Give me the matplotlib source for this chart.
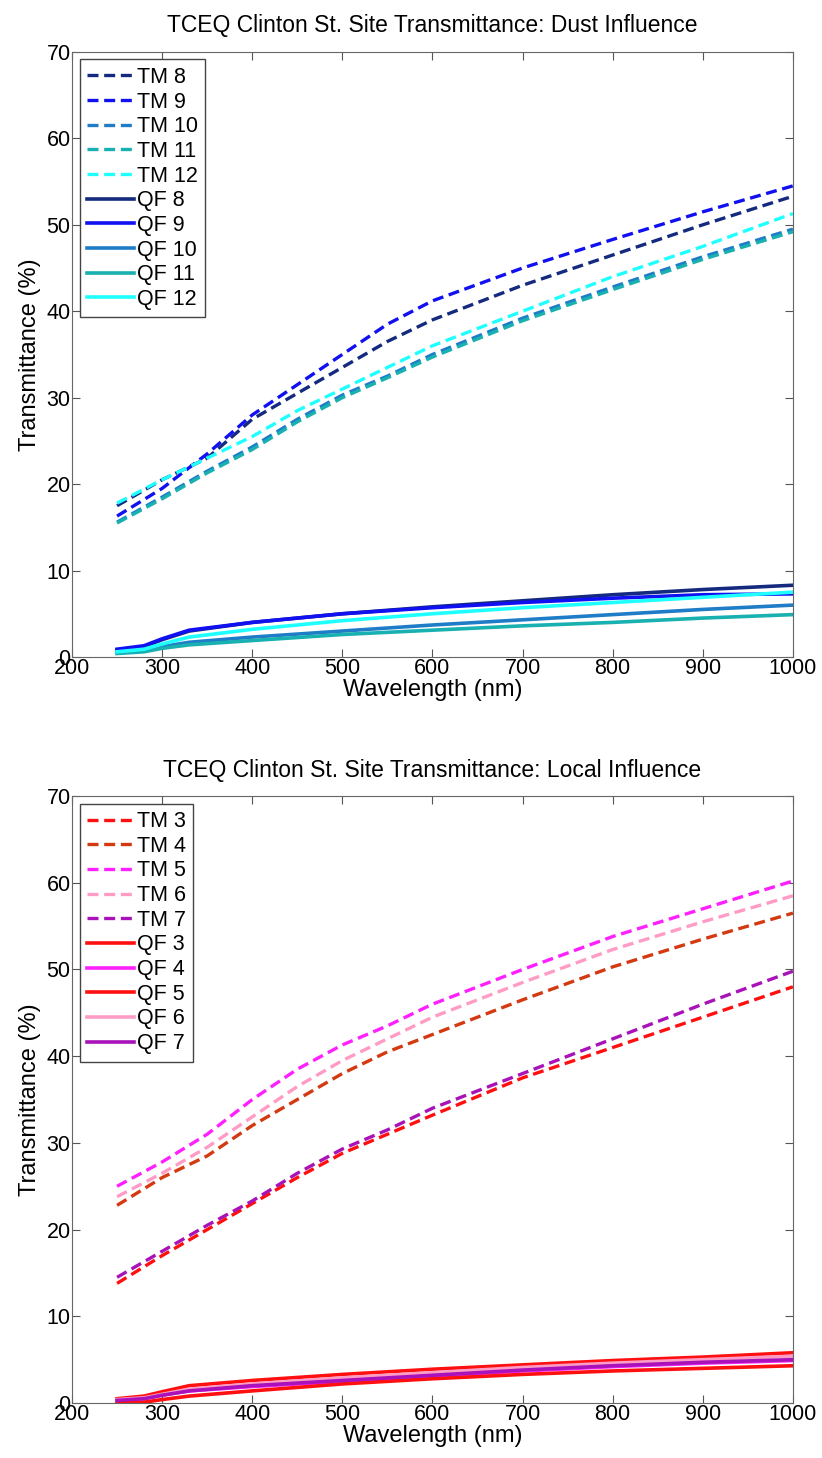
import numpy as np
import matplotlib
matplotlib.use("Agg")
import matplotlib.pyplot as plt

plt.rcParams['font.family'] = ['Liberation Sans', 'DejaVu Sans']

# wavelength grids
wl_tm = [250, 300, 350, 400, 450, 500, 550, 600, 700, 800, 900, 1000]
wl_qf = [250, 280, 300, 330, 400, 500, 600, 700, 800, 900, 1000]

# ---- dust influence ----
tm8 = [17.5, 20.5, 23.0, 27.5, 30.5, 33.5, 36.5, 39.0, 43.0, 46.5, 50.0, 53.3]
tm9 = [16.3, 19.5, 23.5, 28.0, 31.5, 35.0, 38.5, 41.2, 45.0, 48.3, 51.5, 54.5]
tm10 = [15.6, 18.5, 21.5, 24.3, 27.5, 30.3, 32.5, 35.0, 39.2, 42.8, 46.3, 49.5]
tm11 = [15.5, 18.3, 21.3, 24.0, 27.2, 30.0, 32.3, 34.7, 38.9, 42.5, 46.0, 49.2]
tm12 = [17.8, 20.5, 23.0, 25.5, 28.5, 31.0, 33.5, 36.0, 40.0, 44.0, 47.5, 51.3]
qf8 = [0.8, 1.2, 2.0, 3.0, 4.0, 5.0, 5.8, 6.5, 7.2, 7.8, 8.3]
qf9 = [0.9, 1.3, 2.1, 3.1, 4.0, 5.0, 5.7, 6.3, 6.8, 7.2, 7.3]
qf10 = [0.5, 0.7, 1.2, 1.7, 2.3, 3.0, 3.7, 4.3, 4.9, 5.5, 6.0]
qf11 = [0.4, 0.6, 1.0, 1.4, 1.9, 2.6, 3.1, 3.6, 4.0, 4.5, 4.9]
qf12 = [0.6, 0.9, 1.5, 2.3, 3.2, 4.2, 5.0, 5.7, 6.3, 6.9, 7.5]

# ---- local influence ----
tm3 = [13.8, 17.0, 20.0, 23.0, 26.0, 28.8, 31.0, 33.2, 37.5, 41.0, 44.5, 48.0]
tm4 = [22.8, 26.0, 28.5, 32.0, 35.0, 38.0, 40.5, 42.5, 46.5, 50.3, 53.5, 56.5]
tm5 = [25.0, 27.8, 31.0, 35.0, 38.5, 41.3, 43.5, 46.0, 50.0, 53.8, 57.0, 60.2]
tm6 = [23.8, 26.5, 29.5, 33.0, 36.5, 39.5, 42.0, 44.5, 48.5, 52.3, 55.5, 58.5]
tm7 = [14.5, 17.5, 20.5, 23.3, 26.5, 29.3, 31.5, 34.0, 38.0, 42.0, 46.0, 49.8]
qf3 = [0.5, 0.8, 1.3, 2.0, 2.6, 3.3, 3.9, 4.4, 4.9, 5.3, 5.8]
qf4 = [0.3, 0.5, 0.9, 1.4, 1.9, 2.5, 3.1, 3.7, 4.2, 4.6, 4.9]
qf5 = [0.0, 0.1, 0.4, 0.8, 1.4, 2.2, 2.8, 3.3, 3.7, 4.0, 4.3]
qf6 = [0.4, 0.6, 1.0, 1.6, 2.2, 2.9, 3.5, 4.1, 4.6, 5.0, 5.4]
qf7 = [0.3, 0.5, 0.9, 1.4, 2.0, 2.6, 3.2, 3.8, 4.3, 4.7, 5.0]

dust_tm = [("TM 8", tm8), ("TM 9", tm9), ("TM 10", tm10), ("TM 11", tm11), ("TM 12", tm12)]
dust_qf = [("QF 8", qf8), ("QF 9", qf9), ("QF 10", qf10), ("QF 11", qf11), ("QF 12", qf12)]
dust_col = ['#142a7e', '#1010f0', '#1f7dc8', '#18b0b0', '#20ffff']

local_tm = [("TM 3", tm3), ("TM 4", tm4), ("TM 5", tm5), ("TM 6", tm6), ("TM 7", tm7)]
local_qf = [("QF 3", qf3), ("QF 4", qf4), ("QF 5", qf5), ("QF 6", qf6), ("QF 7", qf7)]
local_tm_col = ['#ff1010', '#d43a12', '#ff20ff', '#ff9cc6', '#a812b8']
local_qf_col = ['#ff1010', '#ff20ff', '#ff1010', '#ff9cc6', '#a812b8']

fig = plt.figure(figsize=(8.22, 14.58), dpi=100)
ax1 = fig.add_axes([0.0876, 0.5494, 0.877, 0.4150])
ax2 = fig.add_axes([0.0876, 0.0377, 0.877, 0.4163])


def draw(ax, tms, qfs, tmc, qfc, title):
    for (lab, v), c in zip(tms, tmc):
        ax.plot(wl_tm, v, '--', color=c, lw=2.4, dashes=(3.3, 1.7), label=lab)
    for (lab, v), c in zip(qfs, qfc):
        ax.plot(wl_qf, v, '-', color=c, lw=2.6, label=lab)
    ax.set_xlim(200, 1000)
    ax.set_ylim(0, 70)
    ax.set_xticks(range(200, 1001, 100))
    ax.set_yticks(range(0, 71, 10))
    ax.tick_params(direction='in', top=True, right=True, labelsize=15.5,
                   length=6, color='#555555', pad=1)
    for s in ax.spines.values():
        s.set_color('#666666')
    ax.set_xlabel('Wavelength (nm)', fontsize=17, labelpad=0)
    ax.set_ylabel('Transmittance (%)', fontsize=17, labelpad=4)
    ax.set_title(title, fontsize=16.5, pad=14)
    leg = ax.legend(loc='upper left', fontsize=15.5, handlelength=2.2,
                    labelspacing=0.17, handletextpad=0.1, borderpad=0.35,
                    borderaxespad=0.35, fancybox=False, framealpha=1)
    leg.get_frame().set_edgecolor('#444444')


draw(ax1, dust_tm, dust_qf, dust_col, dust_col,
     'TCEQ Clinton St. Site Transmittance: Dust Influence')
draw(ax2, local_tm, local_qf, local_tm_col, local_qf_col,
     'TCEQ Clinton St. Site Transmittance: Local Influence')

fig.savefig('out.png', dpi=100)
